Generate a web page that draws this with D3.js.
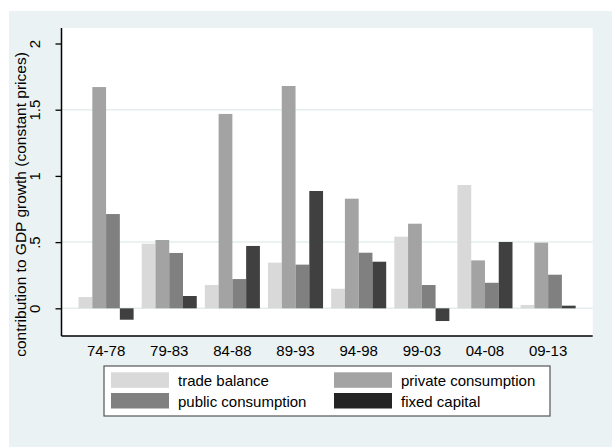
<!DOCTYPE html>
<html><head><meta charset="utf-8">
<script src="https://cdn.jsdelivr.net/npm/d3@7"></script>
<style>body{margin:0;background:#fff}svg{display:block;font-family:"Liberation Sans",Arial,sans-serif}</style>
</head><body>
<script>
const categories = ["74-78","79-83","84-88","89-93","94-98","99-03","04-08","09-13"];
const seriesNames = ["trade balance","private consumption","public consumption","fixed capital"];
const tradeBalance = [0.085,0.488,0.176,0.345,0.148,0.541,0.931,0.025];
const privateConsumption = [1.671,0.516,1.468,1.679,0.828,0.639,0.362,0.496];
const publicConsumption = [0.712,0.418,0.221,0.330,0.420,0.176,0.193,0.254];
const fixedCapital = [-0.086,0.093,0.471,0.886,0.352,-0.096,0.501,0.020];
const yTicks = [0,0.5,1,1.5,2];
const yTickLabels = ["0",".5","1","1.5","2"];
const gridValues = [0,0.5,1.5];

const barColors = ["#d9d9d9","#a3a3a3","#808080","#404040"];
const legendColors = ["#d9d9d9","#a3a3a3","#808080","#242424"];
const seriesValues = [tradeBalance, privateConsumption, publicConsumption, fixedCapital];

const W = 612, H = 447;
const svg = d3.select("body").append("svg").attr("width",W).attr("height",H);
svg.append("rect").attr("x",0).attr("y",0).attr("width",W).attr("height",H).attr("fill","#fff");
svg.append("rect").attr("x",9).attr("y",11).attr("width",W-9).attr("height",H-11).attr("fill","#eaf2f3");

const L = 61.5, R = 592.7, T = 28, B = 336;
svg.append("rect").attr("x",L).attr("y",T).attr("width",R-L).attr("height",B-T).attr("fill","#fff");

const y = d3.scaleLinear().domain([-0.209, 2.117]).range([B, T]);
const x = d3.scaleBand().domain(categories).range([L, R]).paddingInner(0.128).paddingOuter(0.27);
const xs = d3.scaleBand().domain(seriesNames).range([0, x.bandwidth()]).padding(0);

// gridlines
svg.append("g").selectAll("line").data(gridValues).join("line")
  .attr("x1",L).attr("x2",R).attr("y1",d=>y(d)).attr("y2",d=>y(d))
  .attr("stroke","#e4eeee").attr("stroke-width",1.5);

// bars
const rows = [];
categories.forEach((c,i)=>seriesNames.forEach((s,j)=>rows.push({c,s,j,v:seriesValues[j][i]})));
svg.append("g").selectAll("rect").data(rows).join("rect")
  .attr("x",d=>x(d.c)+xs(d.s))
  .attr("width",xs.bandwidth())
  .attr("y",d=>y(Math.max(0,d.v)))
  .attr("height",d=>Math.abs(y(d.v)-y(0)))
  .attr("fill",d=>barColors[d.j]);

// axes
const yAxis = d3.axisLeft(y).tickValues(yTicks).tickFormat((d,i)=>yTickLabels[i]).tickSize(6).tickSizeOuter(0);
const gy = svg.append("g").attr("transform",`translate(${L},0)`).call(yAxis);
gy.select(".domain").remove();
gy.selectAll(".tick line").attr("stroke","#000").attr("stroke-width",1.3);
gy.selectAll(".tick text").attr("font-size",15).attr("fill","#000")
  .attr("x",0).attr("dy",0).attr("text-anchor","middle")
  .attr("transform","translate(-21.5,0) rotate(-90)");
svg.append("line").attr("x1",L).attr("x2",L).attr("y1",T).attr("y2",B).attr("stroke","#000").attr("stroke-width",1.5);

const xAxis = d3.axisBottom(x).tickSize(0).tickSizeOuter(0);
const gx = svg.append("g").attr("transform",`translate(0,${B})`).call(xAxis);
gx.select(".domain").remove();
gx.selectAll(".tick text").attr("font-size",15).attr("fill","#000").attr("y",20).attr("dy","0");
svg.append("line").attr("x1",L).attr("x2",R).attr("y1",B).attr("y2",B).attr("stroke","#000").attr("stroke-width",1.5);

// y title
svg.append("text").attr("transform","translate(25.5,204.5) rotate(-90)")
  .attr("text-anchor","middle").attr("font-size",15.5).attr("fill","#000")
  .text("contribution to GDP growth (constant prices)");

// legend
const lg = svg.append("g");
lg.append("rect").attr("x",104).attr("y",366).attr("width",446).attr("height",50)
  .attr("fill","#fff").attr("stroke","#555").attr("stroke-width",1.2);
const colX = [111, 334], rowY = [372.3, 393];
seriesNames.forEach((s,i)=>{
  const cx = colX[i%2], cy = rowY[Math.floor(i/2)];
  lg.append("rect").attr("x",cx).attr("y",cy).attr("width",58).attr("height",15.5).attr("fill",legendColors[i]);
  lg.append("text").attr("x",cx+67).attr("y",cy+13.8).attr("font-size",15).attr("fill","#000").text(s);
});
</script>
</body></html>
